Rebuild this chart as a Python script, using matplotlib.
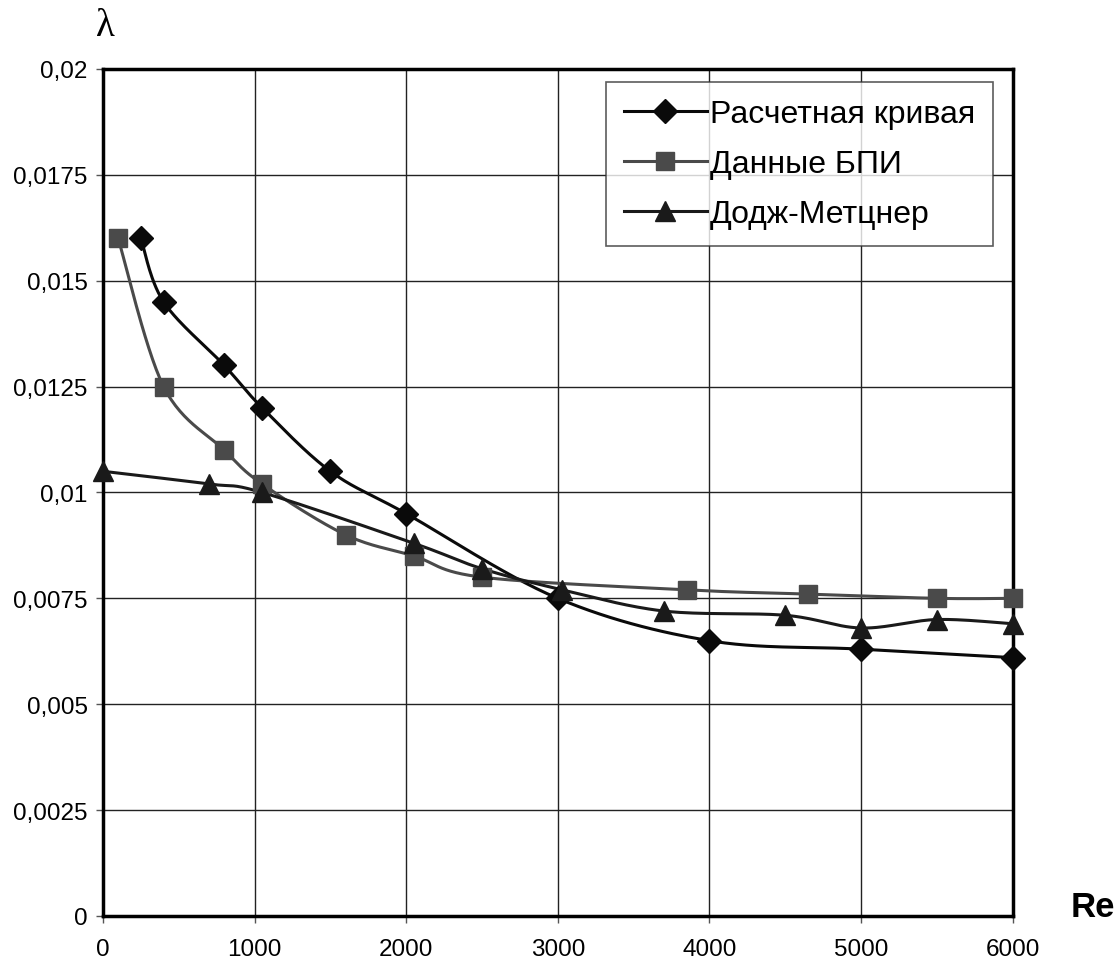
import numpy as np
import matplotlib.pyplot as plt

# Расчетная кривая
re_calc = [250, 400, 800, 1050, 1500, 2000, 3000, 4000, 5000, 6000]
lam_calc = [0.016, 0.0145, 0.013, 0.012, 0.0105, 0.0095, 0.0075, 0.0065, 0.0063, 0.0061]

# Данные БПИ
re_bpi = [100, 400, 800, 1050, 1600, 2050, 2500, 3850, 4650, 5500, 6000]
lam_bpi = [0.016, 0.0125, 0.011, 0.0102, 0.009, 0.0085, 0.008, 0.0077, 0.0076, 0.0075, 0.0075]

# Додж-Метцнер
re_dm = [0, 700, 1050, 2050, 2500, 3030, 3700, 4500, 5000, 5500, 6000]
lam_dm = [0.0105, 0.0102, 0.0100, 0.0088, 0.0082, 0.0077, 0.0072, 0.0071, 0.0068, 0.0070, 0.0069]


def smooth(x, y, n=30):
    # bezier smoothing like excel charts (catmull-rom control points)
    p = np.column_stack([x, y]).astype(float)
    out = []
    for i in range(len(p) - 1):
        p0 = p[i - 1] if i > 0 else p[i]
        p1, p2 = p[i], p[i + 1]
        p3 = p[i + 2] if i + 2 < len(p) else p[i + 1]
        c1 = p1 + (p2 - p0) / 6
        c2 = p2 - (p3 - p1) / 6
        t = np.linspace(0, 1, n)[:, None]
        seg = (1 - t) ** 3 * p1 + 3 * (1 - t) ** 2 * t * c1 + 3 * (1 - t) * t ** 2 * c2 + t ** 3 * p2
        out.append(seg if i == 0 else seg[1:])
    s = np.vstack(out)
    return s[:, 0], s[:, 1]


plt.rcParams['font.family'] = ['Liberation Sans', 'DejaVu Sans']

fig = plt.figure(figsize=(11.19, 9.62), dpi=100)
ax = fig.add_axes([0.092, 0.0468, 0.813, 0.8805])

series = [
    (re_calc, lam_calc, 'D', '#0a0a0a', 12, 'Расчетная кривая'),
    (re_bpi, lam_bpi, 's', '#4a4a4a', 13, 'Данные БПИ'),
    (re_dm, lam_dm, '^', '#1a1a1a', 14, 'Додж-Метцнер'),
]
handles = []
for x, y, m, c, ms, lab in series:
    sx, sy = smooth(x, y)
    ax.plot(sx, sy, color=c, lw=2.2, zorder=3, clip_on=False)
    ax.plot(x, y, ls='none', marker=m, color=c, ms=ms, zorder=4, clip_on=False)
    h, = ax.plot([], [], color=c, lw=2.2, marker=m, ms=ms, label=lab)
    handles.append(h)

ax.set_xlim(0, 6000)
ax.set_ylim(0, 0.02)
ax.set_xticks(np.arange(0, 6001, 1000))
ax.set_yticks(np.arange(0, 0.02001, 0.0025))
ax.set_yticklabels(['0', '0,0025', '0,005', '0,0075', '0,01', '0,0125', '0,015', '0,0175', '0,02'])
ax.tick_params(labelsize=17.5, length=5, width=1, color='#555555', direction='out', pad=6)
ax.tick_params(axis='x', pad=11)
ax.grid(True, color='#222222', lw=1)
ax.set_axisbelow(True)
for sp in ax.spines.values():
    sp.set_linewidth(2.5)

leg = ax.legend(handles=handles, loc='upper right', bbox_to_anchor=(0.978, 0.985),
                fontsize=23, frameon=True, fancybox=False, edgecolor='#333333',
                handlelength=2.6, handletextpad=0.1, borderpad=0.55, labelspacing=0.62,
                borderaxespad=0)
leg.get_frame().set_linewidth(1.2)

fig.text(0.094, 0.972, 'λ', fontsize=28, family='Liberation Serif', ha='center', va='center')
fig.text(0.977, 0.057, 'Re', fontsize=25, fontweight='bold', ha='center', va='center')

fig.savefig('out.png', dpi=100, facecolor='white')
